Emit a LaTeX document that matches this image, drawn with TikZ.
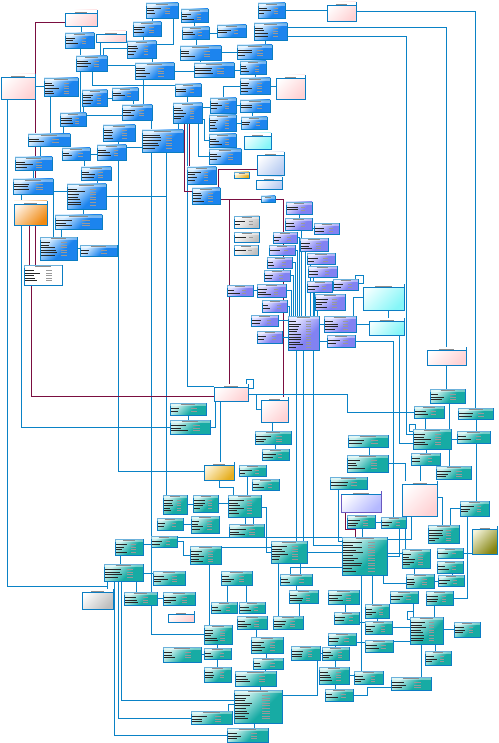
\documentclass[tikz,border=0pt]{standalone}
\usetikzlibrary{calc}

\definecolor{bordc}{HTML}{0B7DC3}
\definecolor{linec}{HTML}{0A82C6}
\definecolor{maroonc}{HTML}{7A0E40}
\definecolor{lavbord}{HTML}{6A58C0}
\definecolor{blueL}{HTML}{D8EDFF}
\definecolor{blueD}{HTML}{1C84EE}
\definecolor{tealL}{HTML}{CDF0EE}
\definecolor{tealD}{HTML}{17ABA4}
\definecolor{purL}{HTML}{E2E2FF}
\definecolor{purD}{HTML}{8282F2}
\definecolor{pinkL}{HTML}{FFFFFF}
\definecolor{pinkD}{HTML}{FFD2D4}
\definecolor{oraL}{HTML}{FFF4E8}
\definecolor{oraD}{HTML}{F08A12}
\definecolor{goldL}{HTML}{FFF6DC}
\definecolor{goldD}{HTML}{E6AE1E}
\definecolor{oliL}{HTML}{F4F4DC}
\definecolor{oliD}{HTML}{858510}
\definecolor{grayL}{HTML}{FFFFFF}
\definecolor{grayD}{HTML}{BEBEBE}
\definecolor{cyanL}{HTML}{F2FFFF}
\definecolor{cyanD}{HTML}{86F6F8}
\definecolor{lbL}{HTML}{FFFFFF}
\definecolor{lbD}{HTML}{B8CCF2}
\definecolor{lavL}{HTML}{FFFFFF}
\definecolor{lavD}{HTML}{B4B8FF}

\pgfdeclarehorizontalshading{shblue}{100bp}{color(0bp)=(blueL); color(28bp)=(blueL); color(58bp)=(blueD); color(100bp)=(blueD)}
\pgfdeclarehorizontalshading{shteal}{100bp}{color(0bp)=(tealL); color(28bp)=(tealL); color(58bp)=(tealD); color(100bp)=(tealD)}
\pgfdeclarehorizontalshading{shpur}{100bp}{color(0bp)=(purL); color(28bp)=(purL); color(60bp)=(purD); color(100bp)=(purD)}
\pgfdeclarehorizontalshading{shpink}{100bp}{color(0bp)=(pinkL); color(25bp)=(pinkL); color(75bp)=(pinkD); color(100bp)=(pinkD)}
\pgfdeclarehorizontalshading{shora}{100bp}{color(0bp)=(oraL); color(25bp)=(oraL); color(75bp)=(oraD); color(100bp)=(oraD)}
\pgfdeclarehorizontalshading{shgold}{100bp}{color(0bp)=(goldL); color(25bp)=(goldL); color(75bp)=(goldD); color(100bp)=(goldD)}
\pgfdeclarehorizontalshading{sholi}{100bp}{color(0bp)=(oliL); color(25bp)=(oliL); color(75bp)=(oliD); color(100bp)=(oliD)}
\pgfdeclarehorizontalshading{shgray}{100bp}{color(0bp)=(grayL); color(25bp)=(grayL); color(75bp)=(grayD); color(100bp)=(grayD)}
\pgfdeclarehorizontalshading{shcyan}{100bp}{color(0bp)=(cyanL); color(25bp)=(cyanL); color(75bp)=(cyanD); color(100bp)=(cyanD)}
\pgfdeclarehorizontalshading{shlb}{100bp}{color(0bp)=(lbL); color(25bp)=(lbL); color(75bp)=(lbD); color(100bp)=(lbD)}
\pgfdeclarehorizontalshading{shlav}{100bp}{color(0bp)=(lavL); color(25bp)=(lavL); color(75bp)=(lavD); color(100bp)=(lavD)}

\pgfdeclarelayer{bg}
\pgfsetlayers{bg,main}

\tikzset{
  tb/.style={draw=bordc, line width=0.9pt, anchor=north west, inner sep=0pt, outer sep=0pt, shade, shading angle=-45},
  bluetb/.style={tb, shading=shblue},
  tealtb/.style={tb, shading=shteal},
  purtb/.style={tb, shading=shpur},
  pinkvw/.style={tb, shading=shpink},
  oravw/.style={tb, shading=shora},
  goldvw/.style={tb, shading=shgold},
  olivw/.style={tb, shading=sholi},
  grayvw/.style={tb, shading=shgray},
  cyanvw/.style={tb, shading=shcyan},
  lbvw/.style={tb, shading=shlb},
  lavvw/.style={tb, shading=shlav, draw=lavbord},
  whitetb/.style={draw=bordc, line width=0.9pt, anchor=north west, inner sep=0pt, outer sep=0pt, fill=white},
  fk/.style={draw=linec, line width=0.8pt},
  mfk/.style={draw=maroonc, line width=0.9pt},
  row/.style={black!85, line width=0.6pt},
  rowb/.style={black!40, line width=0.45pt},
  ttl/.style={black!45, line width=0.45pt}
}

% table: name, style, x, y, width, height
\newcommand\tbl[6]{%
  \node[#2, minimum width=#5pt, minimum height=#6pt] (#1) at (#3,#4) {};
  \fill[white, opacity=0.4] ([shift={(0.45pt,-0.45pt)}]#1.north west) rectangle ([shift={(-0.45pt,-2.6pt)}]#1.north east);
  \draw[ttl] ([shift={(0.3*#5pt,-1.5pt)}]#1.north west) -- ++(0.4*#5,0);
  \pgfmathtruncatemacro\nrows{max(0,(#6-5)/2.6)}%
  \ifnum\nrows>0
    \foreach \k in {1,...,\nrows}{%
      \pgfmathsetmacro\rowlen{(0.18+0.27*rnd)*#5}%
      \draw[row] ([shift={(1.4pt,-2.6pt-\k*2.6pt)}]#1.north west) -- ++(\rowlen,0);
      \draw[rowb] ([shift={(0.58*#5pt,-2.6pt-\k*2.6pt)}]#1.north west) -- ++(0.16*#5,0);
    }%
  \fi
}
% view: name, style, x, y, width, height
\newcommand\vw[6]{%
  \node[#2, minimum width=#5pt, minimum height=#6pt] (#1) at (#3,#4) {};
  \fill[white] ([shift={(0.45pt,-0.45pt)}]#1.north west) rectangle ([shift={(-0.45pt,-3.4pt)}]#1.north east);
  \draw[ttl] ([shift={(0.3*#5pt,-1.8pt)}]#1.north west) -- ++(0.4*#5,0);
  \draw[draw=bordc, line width=0.5pt] ([yshift=-3.4pt]#1.north west) -- ([yshift=-3.4pt]#1.north east);
}

\pgfmathsetseed{7}

\begin{document}
\begin{tikzpicture}[x=1pt, y=-1pt]
\useasboundingbox (0,0) rectangle (498,743);
\begin{pgfonlayer}{bg}
\fill[white] (0,0) rectangle (498,743);
\end{pgfonlayer}

% blue tables
\foreach \n/\x/\y/\w/\h in {b1/146/3/32/15, b2/65/33/29/15, b3/76/56/31/15, b4/133/22/28/14,
  b5/127/41/29/17, b6/135/63/39/16, b7/44/78/34/18, b8/82/90/25/16, b9/112/88/26/12,
  b10/122/105/30/15, b11/60/113/26/13, b12/103/125/32/16, b13/142/130/41/22, b14/28/134/42/12,
  b15/62/148/28/12, b16/97/145/29/15, b17/15/157/37/13, b18/81/167/30/13, b19/13/179/40/15,
  b20/181/9/27/13, b21/182/27/27/12, b22/217/25/29/12, b23/258/3/27/15, b24/254/23/33/17,
  b25/180/46/41/14, b26/237/45/35/14, b27/194/63/40/14, b28/240/61/26/13, b29/240/78/30/16,
  b30/175/84/26/12, b31/173/103/29/20, b32/210/98/26/15, b33/240/100/30/12, b34/209/115/27/16,
  b35/241/117/26/12, b36/209/134/27/13, b37/209/149/32/15, b38/187/167/29/17, b39/67/184/39/25,
  b40/55/215/47/14, b41/40/237/37/23, b42/80/245/37/11, b43/192/188/28/16, b44/261/196/14/6}
  {\tbl{\n}{bluetb}{\x}{\y}{\w}{\h}}

% purple tables
\foreach \n/\x/\y/\w/\h in {p1/286/202/26/12, p2/285/218/27/12, p3/314/223/25/11, p4/273/232/24/11,
  p5/300/238/28/13, p6/269/245/26/10, p7/307/253/28/11, p8/267/257/25/11, p9/308/266/29/11,
  p10/264/270/26/11, p11/307/281/25/11, p12/333/279/25/11, p13/315/294/30/16, p14/227/285/26/11,
  p15/257/284/29/13, p16/262/300/25/12, p17/251/315/27/11, pm/288/316/31/34, p18/324/316/32/16,
  p19/257/331/25/12, p20/327/335/28/12}
  {\tbl{\n}{purtb}{\x}{\y}{\w}{\h}}

% teal tables
\foreach \n/\x/\y/\w/\h in {t1/170/403/36/12, t2/170/420/40/14, t3/255/431/36/13, t4/262/449/27/11,
  t5/239/465/27/11, t6/252/479/27/11, t7/228/495/33/22, t8/193/495/25/17, t9/229/524/35/13,
  t10/191/516/28/17, t11/271/541/36/22, t12/190/546/31/18, t13/163/495/24/19, t14/157/518/26/12,
  t15/151/536/26/11, t16/115/539/28/16, t17/330/477/37/12, t18/430/389/35/14, t19/414/406/30/12,
  t20/458/408/35/11, t21/413/429/38/20, t22/457/431/33/12, t23/411/453/29/12, t24/436/466/35/13,
  t25/348/435/40/12, t26/347/455/41/17, t27/347/515/28/13, t28/381/517/25/11, t29/460/501/29/15,
  t30/428/525/31/18, tm/342/537/45/38, t31/402/549/28/19, t32a/437/548/26/10, t32b/437/561/26/12,
  t33/406/574/28/14, t34/438/575/26/11, t35/328/590/31/14, t36/390/591/28/12, t37/426/591/27/14,
  t38/365/604/24/14, t39/334/612/25/12, t40/365/621/27/13, tr/410/617/33/27, t41/454/622/26/15,
  t42/365/640/28/12, t43/425/651/26/14, t44/354/671/29/13, t45/391/677/40/13, t46/104/564/39/17,
  t47/124/592/33/13, t48/153/571/32/14, t49/163/592/32/13, t50/221/571/31/14, t51/280/574/32/11,
  t52/289/590/29/13, t53/211/602/26/11, t54/239/602/26/11, t55/237/616/30/13, t56/273/616/30/13,
  t57/204/625/28/19, t58/251/637/32/16, t59/253/658/30/11, t60/163/647/38/15, t61/204/648/27/11,
  t62/204/667/27/15, t63/235/671/41/15, tb/234/690/48/33, t64/191/711/41/13, t65/227/728/41/14,
  t66/291/646/29/14, t67/322/647/27/13, t68/319/667/30/17, t69/325/689/28/12, t70/328/633/28/12}
  {\tbl{\n}{tealtb}{\x}{\y}{\w}{\h}}

% other tables
\tbl{gr1}{grayvw}{234}{216}{25}{12}
\tbl{gr2}{grayvw}{234}{232}{25}{10}
\tbl{gr3}{grayvw}{234}{245}{24}{10}
\tbl{gold1}{goldvw}{234}{172}{15}{6}
\tbl{white}{whitetb}{24}{265}{38}{20}

% views
\vw{pk1}{pinkvw}{65}{10}{32}{16}
\vw{pk2}{pinkvw}{96}{31}{30}{11}
\vw{pk3}{pinkvw}{1}{74}{34}{25}
\vw{pk4}{pinkvw}{327}{2}{29}{19}
\vw{pk5}{pinkvw}{276}{75}{29}{24}
\vw{pk6}{pinkvw}{427}{347}{39}{18}
\vw{pk7}{pinkvw}{214}{384}{34}{17}
\vw{pk8}{pinkvw}{261}{397}{27}{25}
\vw{pk9}{pinkvw}{402}{481}{35}{35}
\vw{pk10}{pinkvw}{168}{611}{26}{11}
\vw{orange}{oravw}{14}{201}{33}{24}
\vw{gold2}{goldvw}{204}{462}{30}{18}
\vw{olive}{olivw}{472}{526}{25}{28}
\vw{cy1}{cyanvw}{244}{133}{27}{16}
\vw{cy2}{cyanvw}{363}{284}{41}{26}
\vw{cy3}{cyanvw}{369}{318}{35}{17}
\vw{lb1}{lbvw}{257}{152}{27}{23}
\vw{lb2}{lbvw}{256}{177}{26}{12}
\vw{gr4}{grayvw}{82}{589}{31}{20}
\vw{lav}{lavvw}{341}{491}{40}{21}

\begin{pgfonlayer}{bg}
% upper left
\draw[mfk] ([yshift=-12pt]pk1.north west) -| ([xshift=22pt]b19.north west);
\draw[fk] (pk1.south) |- ([yshift=-3pt]b2.north);
\draw[fk] ([xshift=15pt]b2.south west) |- ([yshift=-3pt]b3.north);
\draw[fk] ([xshift=4pt]pk2.south west) |- ([yshift=-3pt]b3.north);
\draw[fk] (pk3.east) -| ([xshift=3pt]b7.west);
\draw[fk] ([xshift=6pt]pk3.south west) -- ++(0,-487pt) -| ([xshift=3pt]t46.south west);
\draw[fk] ([xshift=3pt]t46.south west) |- ([yshift=-3pt]gr4.north);
\draw[fk] ([xshift=6pt]b1.south west) |- ([yshift=-3pt]b4.north);
\draw[fk] ([xshift=-5pt]b1.south east) |- ([xshift=-3pt,yshift=-3pt]b5.north east);
\draw[fk] ([xshift=10pt]b4.south west) |- ([yshift=-3pt]b5.north);
\draw[fk] ([xshift=25pt]b5.south west) |- ([yshift=-3pt]b6.north);
\draw[fk] ([yshift=-9pt]b3.north east) -| ([xshift=3pt]b6.west);
\draw[fk] ([xshift=27pt]b3.north west) |- ([xshift=3pt,yshift=-7pt]b5.north west);
\draw[fk] ([xshift=16pt]b3.south west) |- ([xshift=3pt,yshift=-1.5pt]b30.north west);
\draw[fk] ([xshift=4pt]b3.south west) |- ([yshift=-3pt]b11.north);
\draw[fk] ([xshift=1pt]b8.south west) |- ([yshift=-3pt]b11.north);
\draw[fk] (b8.east) -| ([xshift=3pt]b9.west);
\draw[fk] ([xshift=21pt]b9.south west) |- ([yshift=-3pt]b10.north);
\draw[fk] ([yshift=-2pt]b11.north east) -| ([xshift=3pt]b10.west);
\draw[fk] ([xshift=8pt]b6.south west) |- ([yshift=-3pt]b10.north);
\draw[fk] ([xshift=29pt]b10.south west) |- ([yshift=-3pt]b13.north);
\draw[fk] ([xshift=15pt]b12.south west) |- ([yshift=-3pt]b16.north);
\draw[fk] ([yshift=-2pt]b16.north east) -| ([xshift=3pt]b13.west);
\draw[fk] (b15.east) -| ([xshift=3pt]b16.west);
\draw[fk] ([xshift=3pt]b11.south west) |- ([yshift=-3pt]b15.north);
\draw[fk] ([xshift=22pt]b15.south west) |- ([yshift=-3pt]b18.north);
\draw[fk] ([xshift=6pt]b7.south west) |- ([yshift=-3pt]b14.north);
\draw[fk] ([xshift=12pt]b14.south west) |- ([yshift=-3pt]b17.north);
\draw[fk] ([xshift=18pt]b17.south west) |- ([yshift=-3pt]b19.north);
\draw[fk] ([xshift=16pt]b18.south west) |- ([yshift=-3pt]b39.north);
\draw[fk] ([yshift=-7pt]b39.north west) -| ([xshift=13pt]b41.north west);
\draw[fk] ([xshift=16pt]b39.south west) |- ([yshift=-3pt]b40.north);
\draw[fk] ([xshift=6pt]b40.south west) |- ([yshift=-3pt]b41.north);
\draw[fk] (b41.east) -| ([xshift=3pt]b42.west);
\draw[fk] ([xshift=8pt]b19.south west) |- (t2.west);
\draw[fk] ([xshift=21pt]b16.south west) |- (gold2.west);
\draw[fk] ([xshift=9pt]b13.south west) |- (t57.west);
\draw[fk] ([xshift=24pt]b13.south west) |- ([yshift=-3pt]t13.north);
\draw[fk] (b39.east) -| ([xshift=24pt]b13.south west);
\draw[fk] ([xshift=14pt]b31.south west) |- ([yshift=-2pt]pk7.north west);
\draw[fk] ([xshift=5pt]b31.south west) |- ([yshift=-3pt]b13.north);
% upper middle
\draw[fk] ([xshift=13pt]b20.south west) |- ([yshift=-3pt]b21.north);
\draw[fk] ([xshift=14pt]b21.south west) |- ([yshift=-3pt]b25.north);
\draw[fk] (b21.east) -| ([xshift=3pt]b22.west);
\draw[fk] (b23.east) -| ([xshift=3pt]pk4.west);
\draw[fk] (pk4.east) -| (t20.north);
\draw[fk] ([yshift=-4pt]b24.north east) -| (pk6.north);
\draw[fk] ([yshift=-13pt]b24.north east) -| ([shift={(-7pt,-5pt)}]t21.north west) -- ([shift={(3pt,-5pt)}]t21.north west);
\draw[fk] ([xshift=11pt]b24.south west) |- ([yshift=-3pt]b26.north);
\draw[fk] (b26.west) -| ([xshift=-3pt]b25.east);
\draw[fk] ([xshift=20pt]b25.south west) |- ([yshift=-3pt]b27.north);
\draw[fk] (b27.east) -| ([xshift=3pt]b28.west);
\draw[fk] ([xshift=15pt]b28.south west) |- ([yshift=-3pt]b29.north);
\draw[fk] (b29.east) -| ([xshift=3pt]pk5.west);
\draw[fk] (b29.west) -| ([xshift=13pt]b32.north west);
\draw[fk] (b6.east) -| ([xshift=3pt]b27.west);
\draw[fk] ([xshift=12pt]b30.south west) |- ([yshift=-3pt]b31.north);
\draw[fk] ([yshift=-4pt]b31.north east) -| ([xshift=3pt]b32.west);
\draw[fk] (b32.east) -| ([xshift=3pt]b33.west);
\draw[fk] ([xshift=12pt]b33.south west) |- ([yshift=-3pt]b35.north);
\draw[fk] (b34.east) -| ([xshift=3pt]b35.west);
\draw[fk] ([yshift=-16pt]b31.north east) -| ([xshift=-5pt]b36.west) -- (b36.west);
\draw[fk] ([xshift=-4pt]b31.south east) |- (b37.west);
% maroon links
\draw[mfk] ([xshift=11pt]b31.south west) |- ([xshift=3pt,yshift=-3pt]b43.north west);
\draw[mfk] ([xshift=16pt]b31.south west) |- ([yshift=-3pt]b38.north);
\draw[mfk] ([yshift=-17pt]lb1.north west) -| ([xshift=26pt]b43.north west);
\draw[mfk] ([yshift=-11pt]b43.north east) -| ([xshift=22pt]pk8.north west);
\draw[mfk] ([yshift=-11pt]b43.north east) -| ([xshift=15pt]pk7.north west);
\draw[mfk] ([xshift=15pt]orange.south west) |- ([yshift=-3pt]white.north);
\draw[mfk] ([xshift=21pt]orange.south west) |- ([yshift=-3pt]white.north);
\draw[mfk] ([xshift=7pt]white.south west) |- ([yshift=-12pt]pk7.north west);
% purple cluster
\draw[fk] ([xshift=13pt]p1.south west) |- ([yshift=-3pt]p2.north);
\draw[fk] (p3.west) -| ([xshift=-3pt]p2.east);
\draw[fk] ([xshift=16pt]p2.south west) |- ([yshift=-3pt]pm.north);
\draw[fk] (p4.east) -| ([xshift=11pt]pm.north west);
\draw[fk] (p6.east) -| ([xshift=9pt]pm.north west);
\draw[fk] (p8.east) -| ([xshift=7pt]pm.north west);
\draw[fk] (p10.east) -| ([xshift=5pt]pm.north west);
\draw[fk] (p15.east) -| ([xshift=3pt]pm.north west);
\draw[fk] (p16.east) -| ([xshift=1pt]pm.north west);
\draw[fk] ([xshift=5pt]p5.south west) |- ([yshift=-3pt]pm.north);
\draw[fk] ([xshift=3pt]p7.south west) |- ([yshift=-3pt]pm.north);
\draw[fk] ([xshift=5pt]p9.south west) |- ([yshift=-3pt]pm.north);
\draw[fk] ([xshift=7pt]p11.south west) |- ([yshift=-3pt]pm.north);
\draw[fk] (p13.west) -| ([xshift=29pt]pm.north west);
\draw[fk] (p14.east) -| ([xshift=3pt]p15.west);
\draw[fk] (p17.east) -| ([xshift=3pt]pm.west);
\draw[fk] (p19.east) -| ([xshift=3pt]pm.west);
\draw[fk] (p18.west) -| ([xshift=-3pt]pm.east);
\draw[fk] (p20.west) -| ([xshift=-3pt]pm.east);
\draw[fk] (p20.east) -| (t28.north);
\draw[fk] (p18.east) -| ([xshift=3pt]cy3.west);
\draw[fk] ([xshift=25pt]cy2.south west) |- ([yshift=-3pt]cy3.north);
\draw[fk] (cy2.west) -| ([xshift=-3pt]p18.north east);
\draw[fk] ([xshift=30pt]cy3.south west) |- ([xshift=3pt,yshift=-14pt]t21.north west);
\draw[fk] ([xshift=-3pt]p12.north east) -- ++(0,4pt) -- ++(8pt,0) -- ++(0,-8pt) -- ([yshift=-4pt]p12.north east);
\draw[fk] ([xshift=2pt]t21.north west) -- ++(0,5pt) -- ++(-6pt,0) -- ++(0,-7pt) -- ([yshift=-2pt]t21.north west);
% middle
\draw[fk] ([yshift=-10pt]pk7.north east) -| ([xshift=-67pt]t19.west) -- (t19.west);
\draw[fk] ([yshift=-10pt]pk7.north east) -| ([xshift=-5pt]pk8.west) -- (pk8.west);
\draw[fk] ([xshift=-2pt]pk7.north east) -- ++(0,5pt) -- ++(7pt,0) -- ++(0,-9pt) -- ([yshift=-4pt]pk7.north east);
\draw[fk] ([xshift=6pt]pk7.south west) |- ([yshift=-3pt]gold2.north);
\draw[fk] ([xshift=1pt]pk7.south west) |- (t2.east);
\draw[fk] ([xshift=18pt]t1.south west) |- ([yshift=-3pt]t2.north);
\draw[fk] ([xshift=11pt]pk8.south west) |- ([yshift=-3pt]t3.north);
\draw[fk] ([xshift=20pt]t3.south west) |- ([yshift=-3pt]t4.north);
\draw[fk] (gold2.south) -- ++(0,-7pt) -| ([xshift=5pt]t7.north west);
\draw[fk] ([xshift=8pt]t5.south west) |- ([yshift=-3pt]t7.north);
\draw[fk] ([xshift=17pt]t7.south west) |- ([yshift=-3pt]t9.north);
\draw[fk] ([xshift=25pt]t7.south west) |- ([yshift=-3pt]t9.north);
\draw[fk] ([yshift=-12pt]t7.north east) -| ([xshift=-5pt]t11.west) -- (t11.west);
\draw[fk] (t8.east) -| ([xshift=3pt]t7.west);
\draw[fk] (t13.east) -| ([xshift=3pt]t8.west);
\draw[fk] (t14.east) -| ([xshift=3pt]t10.west);
\draw[fk] ([yshift=-5pt]t16.north east) -| ([xshift=3pt]t15.west);
\draw[fk] (t15.east) -- ++(6pt,0) |- (t12.west);
\draw[fk] ([yshift=-1.5pt]t15.north east) -- ([yshift=-1.5pt]t15.north east -| tm.west);
\draw[fk] ([yshift=-1pt]t12.north east) -| ([xshift=3pt]t11.west);
\draw[fk] (t11.east) -| ([xshift=3pt]tm.west);
\draw[fk] ([xshift=25pt]pm.south west) |- ([xshift=3pt,yshift=-8pt]tm.north west);
\draw[fk] ([xshift=8pt]pm.south west) |- ([yshift=-3pt]t11.north);
\draw[fk] ([xshift=15pt]pm.south west) |- ([yshift=-3pt]t11.north);
% right column
\draw[fk] (pk6.south) |- ([yshift=-3pt]t18.north);
\draw[fk] ([xshift=19pt]t18.south west) |- ([yshift=-3pt]t21.north);
\draw[fk] ([xshift=11pt]t19.south west) |- ([yshift=-3pt]t21.north);
\draw[fk] ([xshift=18pt]t20.south west) |- ([yshift=-3pt]t22.north);
\draw[fk] (t21.east) -| ([xshift=3pt]t22.west);
\draw[fk] ([xshift=13pt]t21.south west) |- ([yshift=-3pt]t23.north);
\draw[fk] ([xshift=36pt]t21.south west) |- ([yshift=-3pt]t24.north);
\draw[fk] ([xshift=9pt]t23.south west) |- ([yshift=-3pt]pk9.north);
\draw[fk] ([xshift=19pt]t22.south west) |- ([yshift=-3pt]t29.north);
\draw[fk] ([xshift=21pt]t25.south west) |- ([yshift=-3pt]t26.north);
\draw[fk] (t26.east) -| ([xshift=3pt]t31.north west);
\draw[fk] ([xshift=8pt]t17.south west) |- ([xshift=3pt,yshift=-4pt]tm.north west);
\draw[mfk] ([xshift=4pt]lav.south west) -- ++(0,-17pt) -| ([xshift=13pt]tm.north west);
\draw[fk] ([xshift=15pt]t27.south west) |- ([yshift=-3pt]tm.north);
\draw[fk] (t28.west) -| ([xshift=-3pt]t27.east);
\draw[fk] ([xshift=18pt]t28.south west) |- (tm.east);
\draw[fk] ([yshift=-16pt]pk9.north east) -| ([xshift=14pt]t30.north west);
\draw[fk] ([xshift=9pt]pk9.south west) |- ([xshift=-3pt,yshift=-2pt]tm.north east);
\draw[fk] (t29.west) -| ([xshift=22pt]t30.north west);
\draw[fk] ([xshift=7pt]t29.south west) |- (t37.east);
\draw[fk] ([yshift=-16pt]tm.north east) -| ([xshift=3pt]t31.west);
\draw[fk] (t32a.east) -| ([xshift=3pt]olive.west);
% lower right
\draw[fk] ([xshift=19pt]tm.south west) |- ([yshift=-3pt]t44.north);
\draw[fk] ([xshift=30pt]tm.south west) |- ([yshift=-3pt]t38.north);
\draw[fk] ([xshift=41pt]tm.south west) |- ([xshift=3pt,yshift=-9pt]t33.north west);
\draw[fk] (t33.east) -| ([xshift=3pt]t34.west);
\draw[fk] ([xshift=12pt]t31.south west) |- ([yshift=-3pt]t33.north);
\draw[fk] ([xshift=15pt]t32b.south west) |- ([yshift=-3pt]t34.north);
\draw[fk] ([xshift=23pt]t36.south west) |- ([yshift=-3pt]tr.north);
\draw[fk] ([xshift=3pt]tr.north west) -- ++(0,6pt) -- ++(-6pt,0) -- ++(0,-8pt) -- ([yshift=-2pt]tr.north west);
\draw[fk] ([xshift=8pt]t37.south west) |- ([yshift=-3pt]tr.north);
\draw[fk] ([xshift=12pt]t38.south west) |- ([yshift=-3pt]t40.north);
\draw[fk] ([yshift=2pt]t39.south east) -| ([xshift=3pt]t40.west);
\draw[fk] (t40.east) -| ([xshift=3pt]tr.west);
\draw[fk] ([yshift=-1pt]t42.north east) -| ([xshift=3pt]tr.west);
\draw[fk] (t41.west) -| ([xshift=-3pt]tr.east);
\draw[fk] ([xshift=25pt]tr.south west) |- ([yshift=-3pt]t43.north);
\draw[fk] ([xshift=11pt]tr.south west) |- ([yshift=-3pt]t45.north);
\draw[fk] (t68.east) -| ([xshift=3pt]t44.west);
\draw[fk] ([yshift=-9pt]t70.north east) -| ([xshift=3pt]t42.west);
\draw[fk] (t69.east) -- ++(14pt,0) |- ([xshift=3pt,yshift=-10pt]t45.north west);
\draw[fk] ([xshift=17pt]t35.south west) |- ([yshift=-3pt]t39.north);
\draw[fk] ([xshift=7pt]t70.south west) |- ([yshift=-3pt]t67.north);
\draw[fk] ([xshift=13pt]t67.south west) |- ([yshift=-3pt]t68.north);
\draw[fk] ([xshift=16pt]t68.south west) |- ([yshift=-3pt]t69.north);
\draw[fk] (t66.east) -| ([xshift=3pt]t67.west);
% lower left
\draw[fk] ([xshift=25pt]t63.south west) |- ([yshift=-3pt]tb.north);
\draw[fk] ([xshift=-4pt]t64.north east) |- ([xshift=3pt,yshift=-14pt]tb.north west);
\draw[fk] ([xshift=20pt]tb.south west) |- ([yshift=-3pt]t65.north);
\draw[fk] ([yshift=-5pt]tb.north east) -| ([xshift=-3pt]t66.south east);
\draw[fk] ([xshift=17pt]t46.south west) |- ([xshift=3pt,yshift=-10pt]tb.north west);
\draw[fk] ([xshift=14pt]t46.south west) |- ([xshift=3pt,yshift=-7pt]t64.north west);
\draw[fk] ([xshift=10pt]t46.south west) |- ([xshift=3pt,yshift=-7pt]t65.north west);
\draw[fk] ([xshift=32pt]t46.south west) |- ([yshift=-3pt]t47.north);
\draw[fk] ([yshift=-9pt]t46.north east) -| ([xshift=3pt]t48.west);
\draw[fk] ([xshift=5pt]t16.south west) |- ([yshift=-3pt]t46.north);
\draw[fk] (t47.east) -| ([xshift=3pt]t49.west);
\draw[fk] ([xshift=19pt]t12.south west) |- ([yshift=-3pt]t57.north);
\draw[fk] (t60.east) -| ([xshift=3pt]t61.west);
\draw[fk] ([xshift=13pt]t57.south west) |- ([yshift=-3pt]t61.north);
\draw[fk] ([xshift=13pt]t61.south west) |- ([yshift=-3pt]t62.north);
\draw[fk] ([xshift=6pt]t50.south west) |- ([yshift=-3pt]t53.north);
\draw[fk] ([xshift=25pt]t50.south west) |- ([yshift=-3pt]t54.north);
\draw[fk] ([xshift=19pt]t55.south west) |- ([yshift=-3pt]t58.north);
\draw[fk] ([xshift=15pt]t58.south west) |- ([yshift=-3pt]t59.north);
\draw[fk] ([xshift=12pt]t59.south west) |- ([yshift=-3pt]t63.north);
\draw[fk] ([xshift=16pt]t51.south west) |- ([yshift=-3pt]t52.north);
\draw[fk] ([xshift=10pt]t52.south west) |- ([yshift=-3pt]t56.north);
\draw[fk] ([xshift=7pt]t11.south west) |- ([yshift=-3pt]t56.north);
\draw[fk] ([xshift=29pt]t11.south west) |- ([yshift=-3pt]t51.north);
\draw[fk] ([yshift=-30pt]tm.north west) -| ([xshift=10pt]t51.north west);
\end{pgfonlayer}
\end{tikzpicture}
\end{document}
